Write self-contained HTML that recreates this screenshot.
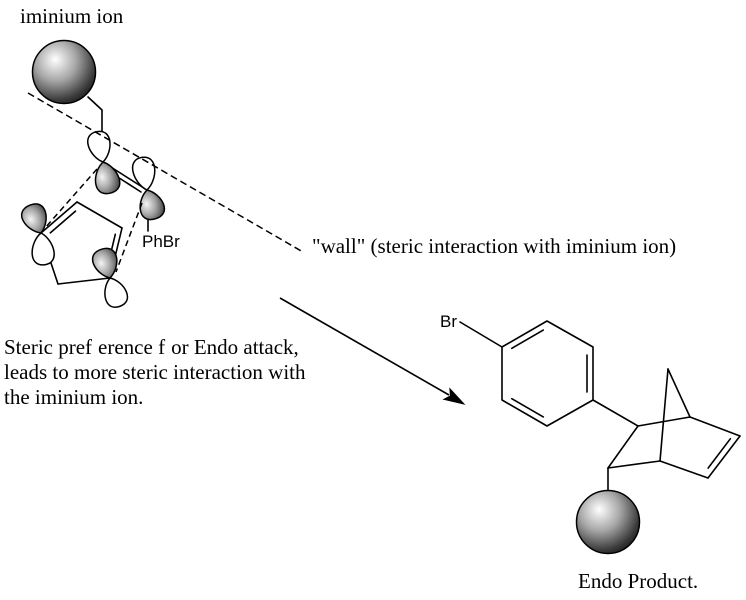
<!DOCTYPE html>
<html><head><meta charset="utf-8"><style>
html,body{margin:0;padding:0;background:#fff;}
svg{display:block;}
</style></head><body>
<svg width="746" height="600" viewBox="0 0 746 600" xmlns="http://www.w3.org/2000/svg">
<defs>
<radialGradient id="ball" cx="0.38" cy="0.34" r="0.72" fx="0.36" fy="0.3">
<stop offset="0" stop-color="#ffffff"/>
<stop offset="0.45" stop-color="#a6a6a6"/>
<stop offset="0.85" stop-color="#3c3c3c"/>
<stop offset="1" stop-color="#1e1e1e"/>
</radialGradient>
<radialGradient id="gup" cx="0.32" cy="0.45" r="0.75">
<stop offset="0" stop-color="#f4f4f4"/>
<stop offset="0.5" stop-color="#a4a4a4"/>
<stop offset="1" stop-color="#3e3e3e"/>
</radialGradient>
<radialGradient id="gdn" cx="0.68" cy="0.55" r="0.75">
<stop offset="0" stop-color="#f4f4f4"/>
<stop offset="0.5" stop-color="#a4a4a4"/>
<stop offset="1" stop-color="#3e3e3e"/>
</radialGradient>
</defs>

<g fill="none" stroke="#000" stroke-width="1.6" stroke-linecap="round" stroke-linejoin="round">
<polyline points="88,97 102,110 102,131"/>
<line x1="103" y1="162" x2="147" y2="190"/>
<line x1="113" y1="174" x2="141" y2="192"/>
<line x1="148" y1="216" x2="148" y2="231"/>
<line x1="41" y1="233" x2="77" y2="202"/>
<line x1="50.3" y1="232.9" x2="75.5" y2="211.1"/>
<line x1="77" y1="202" x2="122" y2="228"/>
<line x1="122" y1="228" x2="110" y2="278"/>
<line x1="115.3" y1="234.3" x2="106.9" y2="269.3"/>
<line x1="110" y1="278" x2="58" y2="284"/>
<line x1="58" y1="284" x2="41" y2="233"/>
</g>

<g stroke="#000" stroke-width="1.5" stroke-linejoin="round">
<path transform="translate(103,162) rotate(-12)" fill="#fff" d="M0,0C-12.1,-7.75 -17,-31 0,-31C17,-31 12.1,-7.75 0,0Z"/>
<path transform="translate(103,162) rotate(167)" fill="url(#gdn)" d="M0,0C-13.2,-8 -18.6,-32 0,-32C18.6,-32 13.2,-8 0,0Z"/>
<path transform="translate(147,190) rotate(-9)" fill="#fff" d="M0,0C-12.1,-8.25 -17,-33 0,-33C17,-33 12.1,-8.25 0,0Z"/>
<path transform="translate(147,190) rotate(164)" fill="url(#gdn)" d="M0,0C-13.2,-7.5 -18.6,-30 0,-30C18.6,-30 13.2,-7.5 0,0Z"/>
<path transform="translate(41,233) rotate(-22)" fill="url(#gup)" d="M0,0C-13.2,-7.5 -18.6,-30 0,-30C18.6,-30 13.2,-7.5 0,0Z"/>
<path transform="translate(41,233) rotate(174)" fill="#fff" d="M0,0C-12.1,-8 -17,-32 0,-32C17,-32 12.1,-8 0,0Z"/>
<path transform="translate(110,278) rotate(-16)" fill="url(#gup)" d="M0,0C-13.2,-7.5 -18.6,-30 0,-30C18.6,-30 13.2,-7.5 0,0Z"/>
<path transform="translate(110,278) rotate(161)" fill="#fff" d="M0,0C-12.1,-7.5 -17,-30 0,-30C17,-30 12.1,-7.5 0,0Z"/>
</g>

<g fill="none" stroke="#000" stroke-width="1.5" stroke-dasharray="6 4">
<line x1="97" y1="169" x2="45" y2="228"/>
<line x1="142" y1="203" x2="116" y2="272"/>
<line x1="28" y1="93" x2="303" y2="252" stroke-dasharray="7 4"/>
</g>

<circle cx="64" cy="72" r="31.5" fill="url(#ball)" stroke="#000" stroke-width="1.5"/>

<line x1="280" y1="298" x2="449" y2="395" stroke="#000" stroke-width="1.6"/>
<polygon points="464,404 443.9,399.3 450.4,396 449.9,388.7" fill="#000" stroke="#000" stroke-width="1"/>

<g fill="none" stroke="#000" stroke-width="1.6" stroke-linecap="round" stroke-linejoin="round">
<line x1="460" y1="322" x2="502" y2="347"/>
<polygon points="547,321 593,347 593,400 547,426 502,400 502,347"/>
<line x1="511.8" y1="348.3" x2="543.3" y2="330.1"/>
<line x1="587" y1="355" x2="587" y2="392"/>
<line x1="511.8" y1="398.7" x2="543.3" y2="416.9"/>
<line x1="593" y1="400" x2="638" y2="426"/>
<line x1="638" y1="426" x2="690" y2="417"/>
<line x1="638" y1="426" x2="608" y2="468"/>
<line x1="608" y1="468" x2="660" y2="461"/>
<line x1="660" y1="461" x2="708" y2="478"/>
<line x1="708" y1="478" x2="740" y2="436"/>
<line x1="730.4" y1="438.7" x2="708.1" y2="468.1"/>
<line x1="740" y1="436" x2="690" y2="417"/>
<line x1="690" y1="417" x2="668" y2="369"/>
<line x1="668" y1="369" x2="660" y2="461"/>
<line x1="608" y1="468" x2="608" y2="491"/>
</g>
<circle cx="608" cy="522" r="31.5" fill="url(#ball)" stroke="#000" stroke-width="1.5"/>

<g font-family="'Liberation Serif', serif" font-size="21" fill="#000">
<text x="20" y="23">iminium ion</text>
<text x="312" y="253">"wall" (steric interaction with iminium ion)</text>
<text x="4" y="354">Steric pref<tspan dx="6">erence f</tspan><tspan dx="6">or Endo attack,</tspan></text>
<text x="4" y="379">leads to more steric interaction with</text>
<text x="4" y="404">the iminium ion.</text>
<text x="578" y="588">Endo Product.</text>
</g>
<g font-family="'Liberation Sans', sans-serif" font-size="17" fill="#000">
<text x="142" y="247">PhBr</text>
<text x="440" y="327">Br</text>
</g>
</svg>
</body></html>
